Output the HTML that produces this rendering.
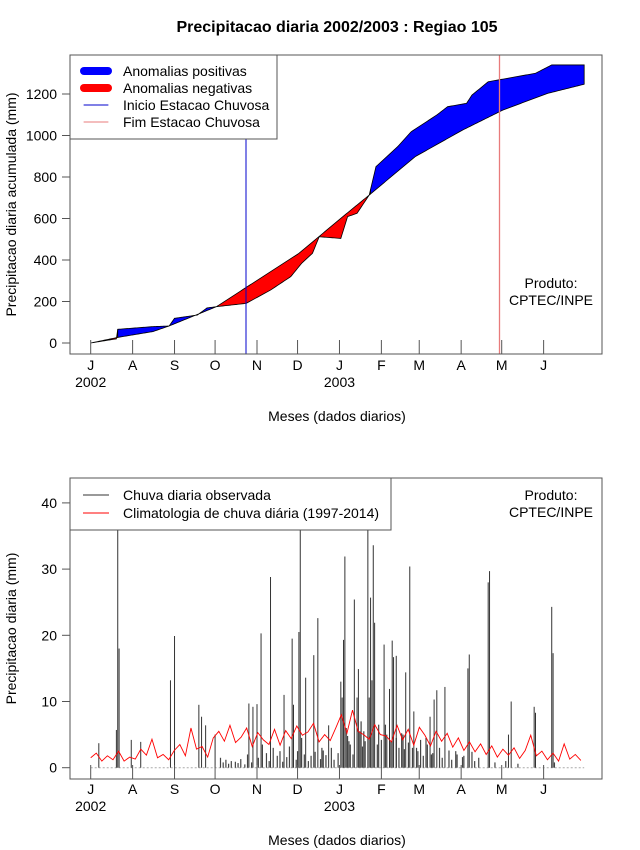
<!DOCTYPE html>
<html><head><meta charset="utf-8"><style>
body{margin:0;background:#fff}
svg{display:block;font-family:"Liberation Sans",sans-serif}
</style></head><body>
<svg id="c" width="640" height="850" xmlns="http://www.w3.org/2000/svg"></svg>
<script>
// ---- data ----
const monthLabels=["J","A","S","O","N","D","J","F","M","A","M","J"];
const monthStartDays=[0,31,62,92,123,153,184,215,243,274,304,335];
const yearLabels=["2002","2003"];
const topYTicks=[0,200,400,600,800,1000,1200];
const botYTicks=[0,10,20,30,40];
const climCumDays=[0,20,46,58,93,115,154,185,206,240,275,305,338,365];
const climCumVals=[0,27,55,82,175,268,432,601,713,898,1026,1123,1203,1247];
const obsCumDays=[0,19,20,46,58,62,79,86,93,115,133,148,156,164,169,185,190,197,206,211,227,237,256,264,278,282,294,329,341,365];
const obsCumVals=[0,20,66,79,82,119,135,169,175,191,255,320,384,432,512,504,609,625,713,850,946,1018,1099,1139,1155,1195,1259,1300,1340,1340];
const rainDays=[6,19,20,21,30,37,59,62,80,82,85,92,117,120,123,126,133,143,149,150,154,155,159,165,168,176,185,186,187,188,195,197,198,205,206,207,208,209,210,217,221,223,224,226,233,236,239,251,254,256,262,279,280,294,295,309,311,328,329,341,342];
const rainVals=[3.7,5.7,38,18,4.2,3.9,13.2,19.9,9.5,7.7,6.4,5.0,9.7,9.2,9.6,20.3,28.8,11,19.5,9.5,20.5,37,13.6,17,22.6,6.4,13,10.6,19.3,31.9,25.4,10.6,14.9,43,10.6,25.7,13.2,33.6,21.9,18.6,11.9,19.2,16.7,16.9,14.4,30.4,8.5,7.7,10.3,11.7,12.2,15,17.1,28,29.7,5.0,10,9.2,8.3,24.3,17.3];
const smallDays=[96,98,100,102,104,107,109,111,114,116,119,124,127,130,132,135,138,140,142,145,147,152,156,158,161,163,166,170,172,174,178,180,183,190,192,194,199,201,203,213,215,219,226,228,230,232,235,238,242,244,246,249,253,258,260,265,267,271,275,282,284,287,299,307,316,343,153,171,189,191,200,202,212,218,222,231,241,248,252,270,276];
const smallVals=[1.5,0.8,1.2,0.6,1.0,0.9,0.7,1.3,0.5,2.0,0.8,1.5,3.5,2.2,1.0,3.0,1.8,2.5,0.9,1.6,3.2,1.2,4.5,2.0,1.0,1.8,2.4,1.3,2.6,1.9,3.0,1.2,2.2,4.8,3.5,2.0,5.5,3.2,4.0,6.5,4.2,5.0,4.5,3.0,5.2,2.8,3.8,3.0,2.5,4.2,1.8,3.5,2.2,3.0,1.5,2.6,1.2,2.0,1.6,2.4,1.0,1.5,0.8,1.0,0.6,0.8,2.5,3.0,6.0,4.0,7.0,5.5,3.5,6.5,4.0,5.0,3.0,4.5,2.0,2.5,1.8];
const climDaily=[1.5,2.2,1.0,1.8,1.2,2.5,1.0,1.6,1.3,2.8,1.9,4.3,1.5,2.0,1.2,
2.6,3.5,1.8,6.0,2.8,3.2,1.6,4.5,
5.5,4.0,6.4,3.8,4.6,6.0,3.2,5.3,
4.2,3.5,5.8,3.4,5.6,4.4,6.3,4.9,
5.4,6.7,3.9,5.0,4.1,6.0,8.0,5.2,
8.7,5.5,5.0,4.3,6.5,5.0,4.8,3.9,
6.4,4.2,5.8,3.4,6.1,4.9,3.3,5.5,
4.0,5.2,3.1,4.5,2.6,3.9,2.4,3.6,
2.0,3.3,1.6,2.8,1.9,3.0,1.4,2.6,
4.9,1.8,2.5,1.2,2.2,1.0,3.6,1.3,2.0,1.1];
const climStep=4.12;

// ---- helpers ----
const NS="http://www.w3.org/2000/svg";
const svg=document.getElementById('c');
function mk(tag,attrs,parent){const e=document.createElementNS(NS,tag);for(const k in attrs)e.setAttribute(k,attrs[k]);(parent||svg).appendChild(e);return e;}
function txt(s,x,y,opt,parent){const e=mk('text',Object.assign({x:x,y:y,'font-size':14,fill:'#000'},opt||{}),parent);e.textContent=s;return e;}
const X=d=>90.7+d*1.352;
const yTop=v=>343-v*0.2075;
const yBot=v=>767.7-v*6.62;
function interp(ds,vs,d){for(let i=1;i<ds.length;i++){if(d<=ds[i]){const t=(d-ds[i-1])/(ds[i]-ds[i-1]||1);return vs[i-1]+t*(vs[i]-vs[i-1]);}}return vs[vs.length-1];}

// title
let t=txt("Precipitacao diaria 2002/2003 : Regiao 105",337,32,{'font-size':16,'font-weight':'bold','text-anchor':'middle'});


function axes(top,bottom,yTicks,yf,prefix,ylabel,xLabY){
  const g=mk('g',{});
  
  
  yTicks.forEach(v=>{const y=yf(v);mk('line',{x1:62,x2:70,y1:y,y2:y,stroke:'#555'},g);
    const l=txt(String(v),57,y+5,{'text-anchor':'end'},g);
    });
  mk('line',{x1:70,x2:70,y1:yf(yTicks[0]),y2:yf(yTicks[yTicks.length-1]),stroke:'#555'},g);
  monthStartDays.forEach((d,i)=>{const x=X(d);mk('line',{x1:x,x2:x,y1:bottom,y2:bottom-14,stroke:'#555'},g);
    const l=txt(monthLabels[i],x,xLabY,{'text-anchor':'middle'},g);
    });
  [0,184].forEach((d,i)=>{const l=txt(yearLabels[i],X(d),xLabY+17,{'text-anchor':'middle'},g);
    });
  const xt=txt("Meses (dados diarios)",337,xLabY+51,{'text-anchor':'middle'},g);
  
  const cy=(top+bottom)/2;
  const yt=txt(ylabel,16,cy,{'text-anchor':'middle',transform:`rotate(-90 16 ${cy})`},g);
  
}

// ===== TOP CHART =====
const gTop=mk('g',{});


const lastDay=365;
let obs=[],clim=[];
for(let d=0;d<=lastDay;d++){obs.push(interp(obsCumDays,obsCumVals,d));clim.push(interp(climCumDays,climCumVals,d));}
let start=0;
function flush(a,b){
  const pos=obs.slice(a,b+1).reduce((s,v,i)=>s+(v-clim[a+i]),0)>=0;
  let pts=[];for(let d=a;d<=b;d++)pts.push(X(d)+','+yTop(obs[d]));
  for(let d=b;d>=a;d--)pts.push(X(d)+','+yTop(clim[d]));
  const p=mk('polygon',{points:pts.join(' '),fill:pos?'#0000ff':'#ff0000',stroke:'#000','stroke-width':0.8},gTop);
  
  
}
let sign=Math.sign(obs[1]-clim[1])||-1;
for(let d=1;d<=lastDay;d++){const s=Math.sign(obs[d]-clim[d]);if(s!==0&&s!==sign){flush(start,d);start=d;sign=s;}}
flush(start,lastDay);

let v1=mk('line',{x1:246,x2:246,y1:55,y2:354,stroke:'#0000cc','stroke-width':1});

let v2=mk('line',{x1:499.5,x2:499.5,y1:55,y2:354,stroke:'#e87b7b','stroke-width':1.3});

let b1=mk('rect',{x:70,y:55,width:532,height:299,fill:'none',stroke:'#555'});

axes(55,354,topYTicks,yTop,'top','Precipitacao diaria acumulada (mm)',370);
const p1=txt("Produto:",551,288,{'text-anchor':'middle'});

const p2=txt("CPTEC/INPE",551,305,{'text-anchor':'middle'});


// top legend
const lg=mk('g',{});


mk('rect',{x:70,y:55,width:207,height:84,fill:'#fff',stroke:'#555'},lg);
[["Anomalias positivas","#0000ff",8],["Anomalias negativas","#ff0000",8],["Inicio Estacao Chuvosa","#0000cc",1],["Fim Estacao Chuvosa","#e87b7b",1]].forEach((it,i)=>{
  const y=71+i*17;
  mk('line',{x1:84,x2:108,y1:y,y2:y,stroke:it[1],'stroke-width':it[2],'stroke-linecap':'round'},lg);
  const e=txt(it[0],123,y+5,{},lg);
  
});

// ===== BOTTOM CHART =====
const gB=mk('g',{});


mk('line',{x1:X(0),x2:X(lastDay),y1:yBot(0),y2:yBot(0),stroke:'#aaa','stroke-dasharray':'2,2'},gB);
smallDays.forEach((d,i)=>{const b=mk('line',{x1:X(d),x2:X(d),y1:yBot(0),y2:yBot(smallVals[i]),stroke:'#444','stroke-width':1.2},gB);
  });
rainDays.forEach((d,i)=>{const b=mk('line',{x1:X(d),x2:X(d),y1:yBot(0),y2:yBot(rainVals[i]),stroke:'#333','stroke-width':1},gB);
  });
const cl=mk('polyline',{points:climDaily.map((v,i)=>X(i*climStep)+','+yBot(v)).join(' '),fill:'none',stroke:'#ff0000','stroke-width':0.9},gB);

let b2=mk('rect',{x:70,y:478,width:532,height:301,fill:'none',stroke:'#555'});

axes(478,779,botYTicks,yBot,'bottom','Precipitacao diaria (mm)',794);
const lg2=mk('g',{});


mk('rect',{x:70,y:478,width:321,height:52,fill:'#fff',stroke:'#555'},lg2);
[["Chuva diaria observada","#333"],["Climatologia de chuva diária (1997-2014)","#ff0000"]].forEach((it,i)=>{
  const y=495+i*18;
  mk('line',{x1:83,x2:109,y1:y,y2:y,stroke:it[1]},lg2);
  const e=txt(it[0],123,y+5,{},lg2);
  
});
const q1=txt("Produto:",551,500,{'text-anchor':'middle'});

const q2=txt("CPTEC/INPE",551,517,{'text-anchor':'middle'});

</script>
</body></html>
